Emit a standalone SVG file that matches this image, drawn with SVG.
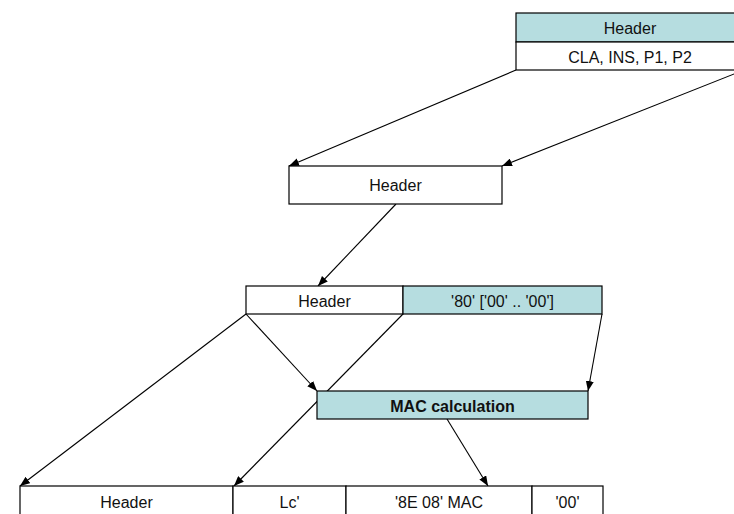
<svg xmlns="http://www.w3.org/2000/svg" width="734" height="514" viewBox="0 0 734 514">
<defs>
<marker id="arr" markerWidth="10" markerHeight="8" refX="10" refY="4" orient="auto" markerUnits="userSpaceOnUse">
<path d="M0,0 L10,4 L0,8 z" fill="#000"/>
</marker>
<style>
.box{fill:#fff;stroke:#000;stroke-width:1.2}
.teal{fill:#B6DDE0;stroke:#000;stroke-width:1.2}
.t{font-family:"Liberation Sans",Arial,sans-serif;font-size:16px;fill:#111;text-anchor:middle}
.b{font-weight:bold}
.c{stroke:#000;stroke-width:1.1;fill:none;marker-end:url(#arr)}
</style>
</defs>
<rect width="734" height="514" fill="#fff"/>
<g id="connectors">
<line class="c" x1="516" y1="70" x2="289" y2="166"/>
<line class="c" x1="744" y1="70" x2="502" y2="166"/>
<line class="c" x1="396" y1="204" x2="318" y2="286"/>
<line class="c" x1="246" y1="314" x2="317" y2="391"/>
<line class="c" x1="403" y1="314" x2="234" y2="486"/>
<line class="c" x1="602" y1="314" x2="588" y2="391"/>
<line class="c" x1="246" y1="314" x2="20" y2="486"/>
<line class="c" x1="447" y1="419" x2="488" y2="486"/>
</g>
<g id="node-top">
<rect class="teal" x="516" y="13" width="228" height="29"/>
<rect class="box" x="516" y="42" width="228" height="28"/>
<text class="t" x="630" y="34">Header</text>
<text class="t" x="630" y="63">CLA, INS, P1, P2</text>
</g>
<g id="node-header">
<rect class="box" x="289" y="166" width="213" height="38"/>
<text class="t" x="395.5" y="191">Header</text>
</g>
<g id="node-padded">
<rect class="box" x="246" y="286" width="157" height="28"/>
<rect class="teal" x="403" y="286" width="199" height="28"/>
<text class="t" x="324.5" y="307">Header</text>
<text class="t" x="502.5" y="307">'80' ['00' .. '00']</text>
</g>
<g id="node-mac">
<rect class="teal" x="317" y="391" width="271" height="28"/>
<text class="t b" x="452.5" y="412">MAC calculation</text>
</g>
<g id="node-result">
<rect class="box" x="20" y="486" width="213" height="40"/>
<rect class="box" x="233" y="486" width="113" height="40"/>
<rect class="box" x="346" y="486" width="186" height="40"/>
<rect class="box" x="532" y="486" width="71" height="40"/>
<text class="t" x="126.5" y="508">Header</text>
<text class="t" x="289.5" y="508">Lc'</text>
<text class="t" x="439" y="508">'8E 08' MAC</text>
<text class="t" x="567.5" y="508">'00'</text>
</g>
</svg>
